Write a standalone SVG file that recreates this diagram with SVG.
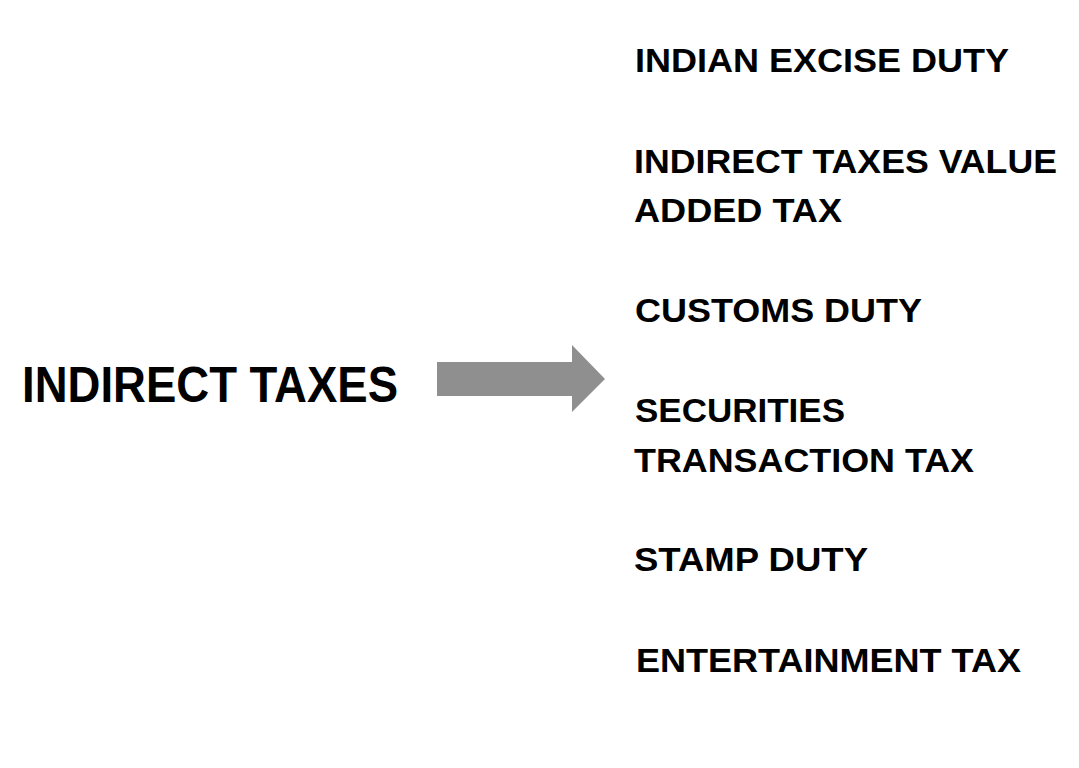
<svg xmlns="http://www.w3.org/2000/svg" width="1079" height="768" viewBox="0 0 1079 768">
<style>
  .t { font-family: "Liberation Sans", Arial, sans-serif; font-weight: 700; fill: #000; }
  .item { font-size: 33.6px; }
  .main { font-size: 50px; }
</style>
<rect width="1079" height="768" fill="#ffffff"/>
<g id="node-main">
  <text class="t main" x="22" y="401.5" textLength="376" lengthAdjust="spacingAndGlyphs">INDIRECT TAXES</text>
</g>
<g id="connectors">
  <polygon points="437,362 572,362 572,345 605,379 572,412 572,396 437,396" fill="#8f8f8f"/>
</g>
<g id="node-excise">
  <text class="t item" x="635" y="71.5" textLength="374" lengthAdjust="spacingAndGlyphs">INDIAN EXCISE DUTY</text>
</g>
<g id="node-vat">
  <text class="t item" x="634" y="172.5" textLength="423" lengthAdjust="spacingAndGlyphs">INDIRECT TAXES VALUE</text>
  <text class="t item" x="634" y="221.7" textLength="208" lengthAdjust="spacingAndGlyphs">ADDED TAX</text>
</g>
<g id="node-customs">
  <text class="t item" x="635" y="322.3" textLength="287" lengthAdjust="spacingAndGlyphs">CUSTOMS DUTY</text>
</g>
<g id="node-stt">
  <text class="t item" x="635" y="421.7" textLength="210" lengthAdjust="spacingAndGlyphs">SECURITIES</text>
  <text class="t item" x="634" y="471.7" textLength="340" lengthAdjust="spacingAndGlyphs">TRANSACTION TAX</text>
</g>
<g id="node-stamp">
  <text class="t item" x="634" y="571" textLength="234" lengthAdjust="spacingAndGlyphs">STAMP DUTY</text>
</g>
<g id="node-entertainment">
  <text class="t item" x="636" y="671.7" textLength="385" lengthAdjust="spacingAndGlyphs">ENTERTAINMENT TAX</text>
</g>
</svg>
